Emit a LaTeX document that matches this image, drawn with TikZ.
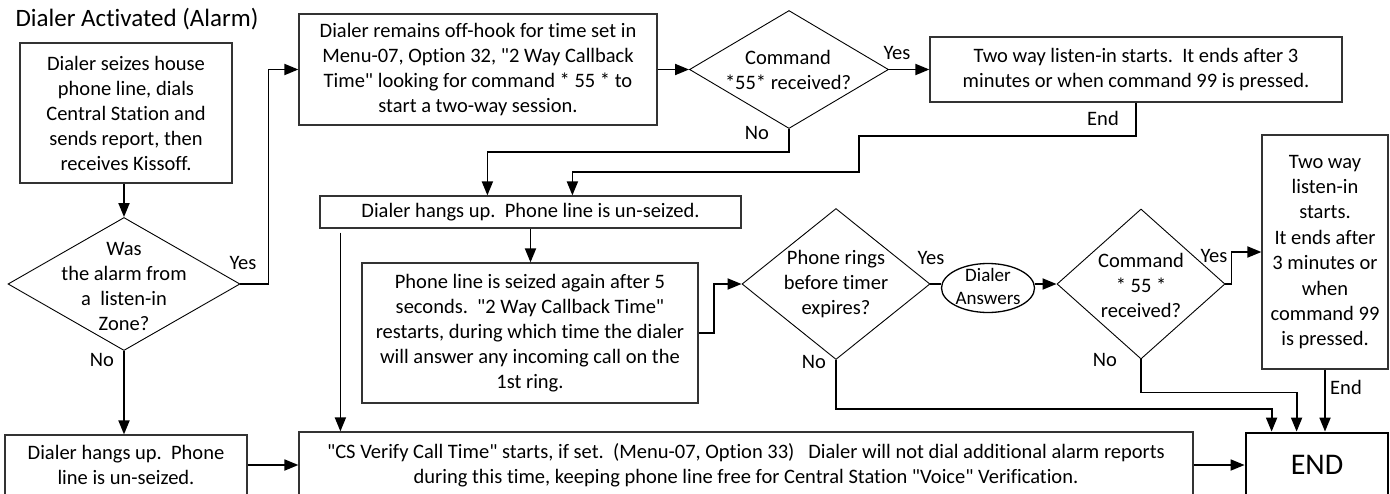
\documentclass[tikz,border=0pt]{standalone}
\usepackage{fontspec}
\setmainfont{Carlito}[Ligatures={TeXOff,NoCommon}]
\usetikzlibrary{arrows.meta,shapes.geometric,calc}
\begin{document}
\begin{tikzpicture}[x=1pt,y=-1pt,
  every node/.style={font=\fontsize{20.5}{25}\selectfont, text=black},
  box/.style={draw=black!80, line width=1.2pt, inner sep=0pt, align=center},
  dia/.style={draw=black, line width=0.9pt, diamond, inner sep=0pt},
  txt/.style={align=center, inner sep=0pt},
  conn/.style={line width=1.8pt, draw=black},
  arr/.style={conn, -{Triangle[length=14pt,width=11pt]}},
  lbl/.style={inner sep=0pt}
]
\clip (0,0) rectangle (1390,493);
\fill[white] (0,0) rectangle (1390,493);

% title
\node[lbl, font=\fontsize{25}{30}\selectfont] (title) at (137,19) {Dialer Activated (Alarm)};

% nodes
\node[box, minimum width=212pt, minimum height=140pt] (A) at (126,113)
  {Dialer seizes house\\phone line, dials\\Central Station and\\sends report, then\\receives Kissoff.};
\node[dia, minimum width=232pt, minimum height=133pt] (D1) at (124,284) {};
\node[txt] (D1t) at (124,286) {Was\\the alarm from\\a\ \ listen-in\\Zone?};
\node[box, minimum width=242pt, minimum height=60pt] (C) at (126,465)
  {Dialer hangs up.\ \ Phone\\line is un-seized.};
\node[box, minimum width=358pt, minimum height=111pt] (B) at (478,69.5)
  {Dialer remains off-hook for time set in\\Menu-07, Option 32, "2 Way Callback\\Time" looking for command * 55 * to\\start a two-way session.};
\node[dia, minimum width=199pt, minimum height=118pt] (D2) at (789,69.5) {};
\node[txt] (D2t) at (788,70) {Command\\*55* received?};
\node[box, minimum width=412pt, minimum height=65pt] (E) at (1136,69.5)
  {Two way listen-in starts.\ \ It ends after 3\\minutes or when command 99 is pressed.};
\node[box, minimum width=421pt, minimum height=32pt] (G) at (530.5,212)
  {Dialer hangs up.\ \ Phone line is un-seized.};
\node[box, minimum width=336pt, minimum height=140pt] (H) at (530,333)
  {Phone line is seized again after 5\\seconds.\ \ "2 Way Callback Time"\\restarts, during which time the dialer\\will answer any incoming call on the\\1st ring.};
\node[dia, minimum width=188pt, minimum height=151pt] (D3) at (836,284) {};
\node[txt] (D3t) at (836,284) {Phone rings\\before timer\\expires?};
\node[ellipse, draw=black, line width=1.3pt, minimum width=93pt, minimum height=49pt, inner sep=0pt] (Ell) at (988,288) {};
\node[txt, font=\fontsize{19}{23}\selectfont] (Ellt) at (988,286) {Dialer\\Answers};
\node[dia, minimum width=168pt, minimum height=150pt] (D4) at (1141,284) {};
\node[txt] (D4t) at (1141,285) {Command\\* 55 *\\received?};
\node[box, minimum width=126pt, minimum height=234pt, font=\fontsize{20.5}{25.4}\selectfont] (I) at (1325,252)
  {Two way\\listen-in\\starts.\\It ends after\\3 minutes or\\when\\command 99\\is pressed.};
\node[box, minimum width=894pt, minimum height=66pt] (F) at (746,465)
  {"CS Verify Call Time" starts, if set.\ \ (Menu-07, Option 33)\ \ \ Dialer will not dial additional alarm reports\\during this time, keeping phone line free for Central Station "Voice" Verification.};
\node[box, draw=black, line width=2.8pt, minimum width=142pt, minimum height=64pt, font=\fontsize{30}{36}\selectfont] (END) at (1317,465) {END};

% connectors
\draw[arr] (A.south -| D1.north) -- (D1.north);
\draw[arr] (D1.east) -- ++(28,0) |- (B.west);
\draw[arr] (D1.south) -- (D1.south |- C.north);
\draw[arr] (C.east) -- (C.east -| F.west);
\draw[arr] (B.east) -- (D2.west);
\draw[arr] (D2.east) -- (E.west);
\draw[arr] (D2.south) -- ++(0,23) -| ([xshift=168pt]G.north west);
\draw[arr] (E.south) -- ++(0,33) -| ++(-277,36) -| ([xshift=253pt]G.north west);
\draw[arr] (G.south) -- (G.south |- H.north);
\draw[arr] ([xshift=21pt,yshift=-4pt]G.south west) -- ([xshift=21pt]G.south west |- F.north);
\draw[arr] (H.east) -- ++(15,0) |- (D3.west);
\draw[conn] (D3.east) -- (D3.east -| Ell.west);
\draw[arr] (Ell.east |- D4.west) -- (D4.west);
\draw[arr] (D4.east) -- ++(6,0) |- (I.west);
\draw[arr] (I.south) -- (I.south |- END.north);
\draw[arr] (D3.south) -- ++(0,49) -| ([xshift=27pt]END.north west);
\draw[arr] (D4.south) -- ++(0,33) -| ([xshift=52pt]END.north west);
\draw[arr] (F.east) -- (F.east -| END.west);

% labels
\node[lbl] (y1) at (243,263) {Yes};
\node[lbl] (n1) at (102,360) {No};
\node[lbl] (n2) at (757,133) {No};
\node[lbl] (y2) at (897,53) {Yes};
\node[lbl] (e1) at (1103,118) {End};
\node[lbl] (y3) at (931,258) {Yes};
\node[lbl] (n3) at (814,362) {No};
\node[lbl] (y4) at (1214,256) {Yes};
\node[lbl] (n4) at (1105,360) {No};
\node[lbl] (e2) at (1346,387) {End};
\end{tikzpicture}
\end{document}
